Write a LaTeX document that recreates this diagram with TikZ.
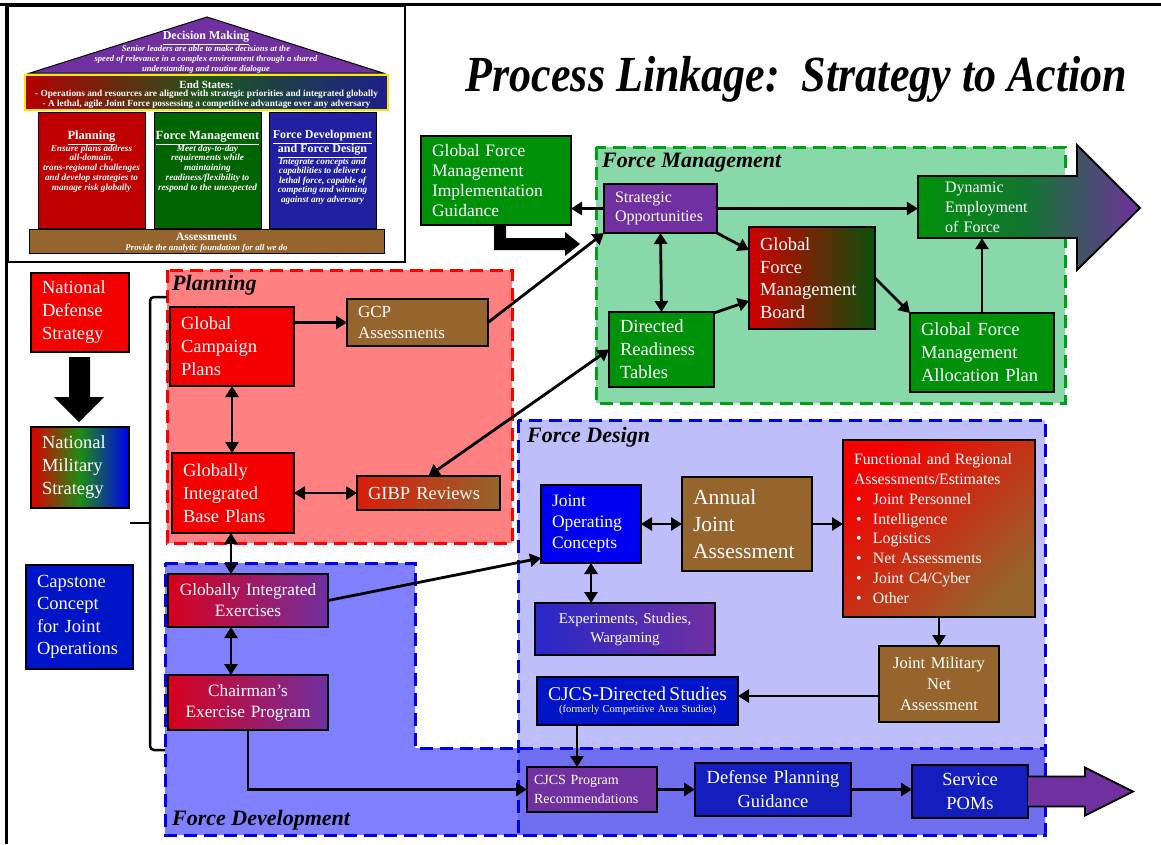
\documentclass[tikz,border=0pt]{standalone}
\usepackage{fontspec}
\usepackage{graphicx}
\setmainfont{Liberation Serif}
\usetikzlibrary{arrows.meta,calc}
\definecolor{cRed}{RGB}{245,0,0}
\definecolor{cGreen}{RGB}{0,145,10}
\definecolor{cDkGreen}{RGB}{10,80,10}
\definecolor{cPurple}{RGB}{112,48,160}
\definecolor{cBrown}{RGB}{150,100,45}
\definecolor{cBlueJ}{RGB}{0,0,240}
\definecolor{cBlueD}{RGB}{0,20,200}
\definecolor{cBlueN}{RGB}{20,30,190}
\definecolor{cPlanFill}{RGB}{255,128,128}
\definecolor{cPlanLine}{RGB}{255,0,0}
\definecolor{cFMFill}{RGB}{136,216,170}
\definecolor{cFMLine}{RGB}{0,160,20}
\definecolor{cFDFill}{RGB}{190,190,250}
\definecolor{cFDevFill}{RGB}{128,128,255}
\definecolor{cFDevOver}{RGB}{110,110,238}
\definecolor{cFDLine}{RGB}{0,0,230}
\definecolor{cRedG}{RGB}{215,30,10}
\definecolor{cRedP}{RGB}{215,0,30}
\definecolor{cBlueE}{RGB}{40,40,200}
\definecolor{cMidG}{RGB}{30,140,20}
\definecolor{pRed}{RGB}{192,0,0}
\definecolor{pGreen}{RGB}{0,100,0}
\definecolor{pBlue}{RGB}{32,32,160}
\definecolor{esRed}{RGB}{180,0,0}
\definecolor{esGreen}{RGB}{30,85,30}
\definecolor{esBlue}{RGB}{30,30,140}
\definecolor{defMid}{RGB}{20,115,50}
\newcommand\fs[2]{\fontsize{#1}{#2}\selectfont}
\newcommand\bul{\hspace*{2pt}\makebox[17pt][l]{•}}
\newcommand\bx[7][]{%
  \node[box, minimum width={(#5-#3)*1pt}, minimum height={(#6-#4)*1pt},
        text width={(#5-#3-22)*1pt}, #1] (#2) at ({(#3+#5)/2},{(#4+#6)/2}) {#7};}
\tikzset{
  box/.style={draw=black, line width=1.8pt, inner xsep=11pt, inner ysep=0pt,
              outer sep=0pt, text=white, align=left},
  arr/.style={line width=2.8pt, -{Triangle[length=11pt,width=13pt]}},
  dbl/.style={line width=2.8pt, {Triangle[length=11pt,width=13pt]}-{Triangle[length=11pt,width=13pt]}},
  region/.style={line width=3pt, dash pattern=on 13pt off 7pt},
  lbl/.style={font=\fs{22}{24}\bfseries\itshape, anchor=west, inner sep=0pt},
  ins/.style={text=white, inner sep=0pt, align=center},
}
\begin{document}
\begin{tikzpicture}[x=1pt,y=-1pt]
\useasboundingbox (0,0) rectangle (1161,844);
\fill[white] (0,0) rectangle (1161,844);
% outer frame
\draw[line width=3pt] (0,4) -- (1161,4);
\draw[line width=3pt] (6,4) -- (6,844);

% ---------- inset ----------
\draw[line width=1.5pt] (8,6) rectangle (405,262);
\draw[fill=cPurple, line width=1pt] (207,17) -- (383,73) -- (30,73) -- cycle;
\shade[left color=esRed, right color=esBlue, middle color=esGreen] (25,75) rectangle (388,110);
\draw[yellow!90!orange, line width=1.5pt] (25,75) rectangle (388,110);
\draw[fill=pRed, line width=1pt] (38,112) rectangle (145,228);
\draw[fill=pGreen, line width=1pt] (154,112) rectangle (261,228);
\draw[fill=pBlue, line width=1pt] (269,112) rectangle (376,228);
\draw[fill=cBrown, line width=1pt] (29,229) rectangle (384,253);
\node[ins, font=\fs{12}{13}\bfseries] (dmT) at (206,38) {\underline{Decision Making}};
\node[ins, font=\fs{8.6}{9.8}\bfseries\itshape] (dmB) at (206,59.5) {Senior leaders are able to make decisions at the\\speed of relevance in a complex environment through a shared\\understanding and routine dialogue};
\node[ins, font=\fs{11}{12}\bfseries] (esT) at (206.5,84.5) {End States:};
\node[ins, font=\fs{9.3}{9.5}\bfseries] (esB) at (206.5,99.5) {- Operations and resources are aligned with strategic priorities and integrated globally\\- A lethal, agile Joint Force possessing a competitive advantage over any adversary};
\node[ins, font=\fs{12.5}{13}\bfseries] (plT) at (91.5,138) {\underline{Planning}};
\node[ins, font=\fs{9.2}{9.75}\bfseries\itshape] (plB) at (91.5,168.5) {Ensure plans address\\all-domain,\\trans-regional challenges\\and develop strategies to\\manage risk globally};
\node[ins, font=\fs{12.5}{13}\bfseries] (fmT) at (207.5,138) {\underline{Force Management}};
\node[ins, font=\fs{9.2}{9.75}\bfseries\itshape] (fmB) at (207.5,168.5) {Meet day-to-day\\requirements while\\maintaining\\readiness/flexibility to\\respond to the unexpected};
\node[ins, font=\fs{12}{12.5}\bfseries] (fdT) at (322.5,144) {\underline{Force Development}\\\underline{and Force Design}};
\node[ins, font=\fs{9.2}{9.6}\bfseries\itshape] (fdB) at (322.5,181) {Integrate concepts and\\capabilities to deliver a\\lethal force, capable of\\competing and winning\\against any adversary};
\node[ins, font=\fs{11.5}{12}\bfseries] (asT) at (206.5,237) {Assessments};
\node[ins, font=\fs{8.8}{9.5}\bfseries\itshape] (asB) at (206.5,248) {Provide the analytic foundation for all we do};

% ---------- title ----------
\node[font=\fs{44}{50}\bfseries\itshape, anchor=base, inner sep=0pt] (title) at (796.5,91) {\scalebox{1}[1.15]{Process Linkage:\ \ Strategy to Action}};

% ---------- regions ----------
\fill[cPlanFill] (167,270) rectangle (512,543);
\draw[region, cPlanLine] (167,270) rectangle (512,543);
\fill[cFMFill] (596,147) rectangle (1065,403);
\draw[region, cFMLine] (596,147) rectangle (1065,403);
\fill[cFDFill] (518,420) rectangle (1045,835);
\fill[cFDevFill] (165,563) -- (415,563) -- (415,748) -- (1045,748) -- (1045,835) -- (165,835) -- cycle;
\fill[cFDevOver] (518,748) rectangle (1045,835);
\draw[region, cFDLine] (518,420) rectangle (1045,835);
\draw[region, cFDLine] (165,563) -- (415,563) -- (415,748) -- (1045,748) -- (1045,835) -- (165,835) -- cycle;
\node[lbl] (lPl) at (172,285) {Planning};
\node[lbl] (lFM) at (602,163) {Force Management};
\node[lbl] (lFD) at (527,437) {Force Design};
\node[lbl] (lFDev) at (172,820) {Force Development};

% bracket
\draw[line width=2.5pt, rounded corners=4pt] (167,297) -- (150,297) -- (150,750) -- (165,750);
\draw[line width=2.5pt] (150,523) -- (130,523);

% Dynamic employment arrow shape
\path[draw=black, line width=1.8pt, left color=cGreen, right color=cPurple, middle color=defMid]
  (918,176) -- (1077,176) -- (1077,145) -- (1140,208) -- (1077,270) -- (1077,238) -- (918,238) -- cycle;
\node[inner sep=0pt, minimum width=159pt, minimum height=62pt, text width=105pt, align=left,
      text=white, font=\fs{16}{20}] (DEF) at (997.5,207) {Dynamic\\Employment\\of Force};

% ---------- boxes ----------
\bx[fill=cRed, font=\fs{18.5}{23}]{NDS}{31}{273}{129}{352}{National\\Defense\\Strategy}
\bx[left color=cRed!90!black, right color=cBlueJ, middle color=cMidG, font=\fs{18.5}{23}]{NMS}{31}{427}{129}{508}{National\\Military\\Strategy}
\bx[fill=cBlueD, font=\fs{18.5}{22.5}]{CCJO}{26}{565}{133}{669}{Capstone\\Concept\\for Joint\\Operations}
\bx[fill=cRed, font=\fs{18.5}{23}]{GCP}{170}{307}{294}{386}{Global\\Campaign\\Plans}
\bx[fill=cBrown, font=\fs{17}{21}]{GCPA}{347}{299}{488}{346}{GCP\\Assessments}
\bx[fill=cRed, font=\fs{18.5}{23}]{GIBP}{172}{453}{294}{533}{Globally\\Integrated\\Base Plans}
\bx[left color=cRedG, right color=cBrown, font=\fs{18.5}{22}]{GIBPR}{357}{476}{500}{510}{GIBP Reviews}
\bx[fill=cGreen, font=\fs{17.5}{20}]{GFMIG}{421}{136}{571}{225}{Global Force\\Management\\Implementation\\Guidance}
\bx[fill=cPurple, font=\fs{16}{19}]{SO}{604}{184}{717}{233}{Strategic\\Opportunities}
\bx[fill=cGreen, font=\fs{18.5}{23}]{DRT}{609}{312}{714}{387}{Directed\\Readiness\\Tables}
\bx[left color=cRed!85!black, right color=cDkGreen, font=\fs{18.5}{22.5}]{GFMB}{749}{227}{875}{329}{Global\\Force\\Management\\Board}
\bx[fill=cGreen, font=\fs{18.5}{23}]{GFMAP}{910}{313}{1054}{392}{Global Force\\Management\\Allocation Plan}
\bx[fill=cBlueJ, font=\fs{17.5}{21}]{JOC}{541}{485}{641}{563}{Joint\\Operating\\Concepts}
\bx[fill=cBrown, font=\fs{21.5}{27}]{AJA}{682}{477}{812}{571}{Annual\\Joint\\Assessment}
\bx[top color=cRed, bottom color=cBrown, shading angle=45, font=\fs{15.8}{19.8}]{FRAE}{843}{440}{1035}{617}{Functional and Regional\\Assessments/Estimates\\\bul Joint Personnel\\\bul Intelligence\\\bul Logistics\\\bul Net Assessments\\\bul Joint C4/Cyber\\\bul Other}
\bx[fill=cBrown, align=center, font=\fs{16.5}{21}]{JMNA}{879}{646}{999}{722}{Joint Military\\Net\\Assessment}
\bx[fill=cBlueD, align=center, text width=195pt, inner xsep=3pt]{CJCSDS}{537}{677}{738}{725}{\fs{19.5}{21}CJCS-Directed Studies\\\fs{10.5}{14}(formerly Competitive Area Studies)}
\bx[left color=cBlueE, right color=cPurple, align=center, font=\fs{15}{19}]{EXP}{535}{603}{715}{655}{Experiments, Studies,\\Wargaming}
\bx[left color=cRedP, right color=cPurple, align=center, font=\fs{17.3}{21}]{GIE}{168}{574}{328}{627}{Globally Integrated\\Exercises}
\bx[left color=cRedP, right color=cPurple, align=center, font=\fs{17.3}{21}]{CEP}{168}{675}{328}{730}{Chairman’s\\Exercise Program}
\bx[fill=cPurple, font=\fs{14}{19}, text width=116pt, inner xsep=7pt]{CJCSPR}{527}{767}{657}{812}{CJCS Program\\Recommendations}
\bx[fill=cBlueN, align=center, font=\fs{18.5}{24}]{DPG}{695}{763}{851}{816}{Defense Planning\\Guidance}
\bx[fill=cBlueN, align=center, font=\fs{18.5}{24}]{SPOM}{912}{765}{1028}{818}{Service\\POMs}

% ---------- block arrows ----------
\fill[shift={(GFMIG.south west)}] (73,0) -- (85,0) -- (85,13) -- (144,13) -- (144,7) -- (159,19) -- (144,31) -- (144,25) -- (73,25) -- cycle;
\fill[shift={(NDS.south)}] (-11,5) -- (10,5) -- (10,45) -- (24,45) -- (-1,70) -- (-26,45) -- (-11,45) -- cycle;
\draw[fill=cPurple, line width=1.8pt, shift={(SPOM.east)}] (0,-15) -- (57,-15) -- (57,-24) -- (105,0) -- (57,24) -- (57,15) -- (0,15);

% ---------- connectors ----------
\draw[arr] (SO.west) -- (SO.west -| GFMIG.east);
\draw[arr] (SO.east) -- (SO.east -| DEF.west);
\draw[dbl] (SO.south) -- (DRT.north);
\draw[arr] (SO.south east) -- ($(GFMB.north west)+(0,23)$);
\draw[arr] ($(DRT.north east)+(0,1)$) -- ($(GFMB.north west)+(0,74)$);
\draw[arr] (GFMB.east) -- (GFMAP.north west);
\draw[arr] (GFMAP.north) -- (GFMAP.north |- DEF.south);
\draw[arr] (GCPA.east) -- (SO.south west);
\draw[arr] (GCP.east |- GCPA.west) -- (GCPA.west);
\draw[dbl] (GCP.south) -- (GCP.south |- GIBP.north);
\draw[dbl] (GIBP.east) -- (GIBP.east -| GIBPR.west);
\draw[dbl] (DRT.west) -- (GIBPR.north);
\coordinate (vx) at ($(GIBP.south)+(-2,0)$);
\draw[dbl] (vx) -- (vx |- GIE.north);
\draw[dbl] (vx |- GIE.south) -- (vx |- CEP.north);
\draw[arr] (GIE.east) -- ($(JOC.south west)+(0,-5)$);
\draw[arr] (CEP.south) |- (CJCSPR.west);
\draw[dbl] (JOC.east) -- (JOC.east -| AJA.west);
\draw[arr] (AJA.east) -- (AJA.east -| FRAE.west);
\draw[arr] (FRAE.south) -- (FRAE.south |- JMNA.north);
\coordinate (jm) at ($(JMNA.west)+(0,12)$);
\draw[arr] (jm) -- (jm -| CJCSDS.east);
\coordinate (cd) at ($(CJCSDS.south west)+(40,0)$);
\draw[arr] (cd) -- (cd |- CJCSPR.north);
\draw[dbl] (JOC.south) -- (JOC.south |- EXP.north);
\draw[arr] (CJCSPR.east) -- (CJCSPR.east -| DPG.west);
\draw[arr] (DPG.east) -- (DPG.east -| SPOM.west);
\end{tikzpicture}
\end{document}
